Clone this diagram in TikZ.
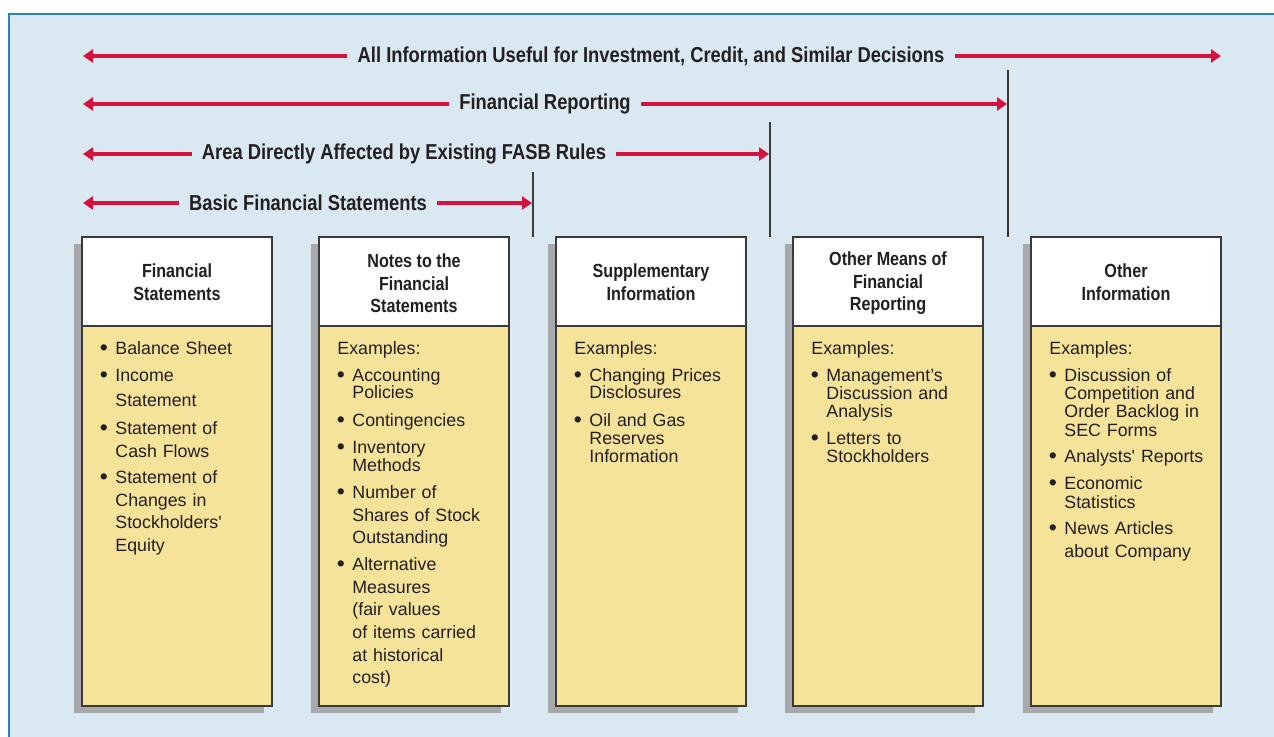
\documentclass[tikz,border=0pt]{standalone}
\usepackage{fontspec}
\setmainfont{Liberation Sans}
\newfontfamily\condfont{Liberation Sans}[FakeStretch=0.85]
\usepackage{xcolor}
\usepackage{tikz}
\usetikzlibrary{arrows.meta,shadows}
\setlength{\parindent}{0pt}
\definecolor{frSky}{HTML}{D9E8F1}
\definecolor{frFrame}{HTML}{2B82B4}
\definecolor{frRed}{HTML}{D4113F}
\definecolor{frInk}{HTML}{231F20}
\definecolor{frEdge}{HTML}{3A3A3A}
\definecolor{frCream}{HTML}{F6E39A}
\definecolor{frShade}{HTML}{A6A8AB}
\newcommand{\bul}{\hspace*{-0.3pt}\makebox[7.8pt][l]{\raisebox{-0.6pt}{\fontsize{11.5pt}{9pt}\selectfont\textbullet}}}
\newcommand{\cnt}{\hspace*{7.5pt}}
\tikzset{
  fr diagram/.style={x=0.5pt, y=-0.5pt, text=frInk,
    line cap=butt, line join=miter},
  fr label/.style={font=\fontsize{10.8pt}{12pt}\condfont\bfseries,
    text=frInk, inner xsep=5pt, inner ysep=0pt},
  fr arrow/.style={-{Triangle[length=5pt,width=6.5pt]}, draw=frRed,
    line width=1.8pt},
  fr divider/.style={draw=frEdge, line width=0.75pt},
  fr panel/.style={draw=frEdge, fill=frCream, line width=0.75pt,
    minimum width=95pt, minimum height=234.5pt, inner sep=0pt,
    drop shadow={shadow xshift=-4pt, shadow yshift=-3.5pt,
      fill=frShade, opacity=1}},
  fr head/.style={draw=frEdge, fill=white, line width=0.75pt,
    minimum width=95pt, minimum height=44.5pt, inner sep=0pt},
  fr title/.style={inner sep=0pt, align=center,
    font=\fontsize{9.5pt}{11.25pt}\condfont\bfseries},
  fr body/.style={anchor=north west, inner sep=0pt, text width=85pt,
    align=left, font=\fontsize{8.9pt}{9pt}\selectfont}
}
\begin{document}
\begin{tikzpicture}[fr diagram]
\useasboundingbox (0,0) rectangle (1274,737);
% frame
\fill[frSky] (9,14) rectangle (1274,737);
\draw[frFrame, line width=1pt] (9,737) -- (9,14) -- (1274,14);

% scope arrows
\node[fr label] (allinfo) at (651,56) {All Information Useful for Investment, Credit, and Similar Decisions};
\coordinate (allinfoL) at (83,56);
\coordinate (allinfoR) at (1221,56);
\draw[fr arrow] (allinfo.west) -- (allinfoL);
\draw[fr arrow] (allinfo.east) -- (allinfoR);

\node[fr label] (finrep) at (545,104) {Financial Reporting};
\coordinate (finrepL) at (83,104);
\coordinate (finrepR) at (1007,104);
\draw[fr arrow] (finrep.west) -- (finrepL);
\draw[fr arrow] (finrep.east) -- (finrepR);

\node[fr label] (fasb) at (404,154) {Area Directly Affected by Existing FASB Rules};
\coordinate (fasbL) at (83,154);
\coordinate (fasbR) at (769,154);
\draw[fr arrow] (fasb.west) -- (fasbL);
\draw[fr arrow] (fasb.east) -- (fasbR);

\node[fr label] (basic) at (308,203) {Basic Financial Statements};
\coordinate (basicL) at (83,203);
\coordinate (basicR) at (532,203);
\draw[fr arrow] (basic.west) -- (basicL);
\draw[fr arrow] (basic.east) -- (basicR);

% dividers
\coordinate (div1top) at (533,172);
\coordinate (div1bot) at (533,237);
\coordinate (div2top) at (770,122);
\coordinate (div2bot) at (770,237);
\coordinate (div3top) at (1008,70);
\coordinate (div3bot) at (1008,237);
\draw[fr divider] (div1top) -- (div1bot);
\draw[fr divider] (div2top) -- (div2bot);
\draw[fr divider] (div3top) -- (div3bot);

% panels
\node[fr panel] (p1) at (177,471.5) {};
\node[fr head, anchor=north] (h1) at (p1.north) {};
\node[fr title] (t1) at (177,282) {Financial\\Statements};
\node[fr body] (b1) at (100,341) {%
\bul Balance Sheet\\[4.5pt]
\bul Income\\[3.5pt]
\cnt Statement\\[5pt]
\bul Statement of\\[2.5pt]
\cnt Cash Flows\\[4pt]
\bul Statement of\\[2.5pt]
\cnt Changes in\\[2pt]
\cnt Stockholders\textquotesingle\\[2.5pt]
\cnt Equity};

\node[fr panel] (p2) at (414,471.5) {};
\node[fr head, anchor=north] (h2) at (p2.north) {};
\node[fr title] (t2) at (414,283.5) {Notes to the\\Financial\\Statements};
\node[fr body] (b2) at (337,341) {%
Examples:\\[4.5pt]
\bul Accounting\\[-0.5pt]
\cnt Policies\\[5pt]
\bul Contingencies\\[4.5pt]
\bul Inventory\\
\cnt Methods\\[4.5pt]
\bul Number of\\[2.5pt]
\cnt Shares of Stock\\[2pt]
\cnt Outstanding\\[4.5pt]
\bul Alternative\\[2.5pt]
\cnt Measures\\[2pt]
\cnt (fair values\\[2.5pt]
\cnt of items carried\\[2.5pt]
\cnt at historical\\[2pt]
\cnt cost)};

\node[fr panel] (p3) at (651,471.5) {};
\node[fr head, anchor=north] (h3) at (p3.north) {};
\node[fr title] (t3) at (651,282) {Supplementary\\Information};
\node[fr body] (b3) at (574,341) {%
Examples:\\[4.5pt]
\bul Changing Prices\\[-0.5pt]
\cnt Disclosures\\[5pt]
\bul Oil and Gas\\
\cnt Reserves\\
\cnt Information};

\node[fr panel] (p4) at (888,471.5) {};
\node[fr head, anchor=north] (h4) at (p4.north) {};
\node[fr title] (t4) at (888,283.5) {Other Means of\\Financial\\Reporting};
\node[fr body] (b4) at (811,341) {%
Examples:\\[4.5pt]
\bul Management’s\\
\cnt Discussion and\\
\cnt Analysis\\[4.5pt]
\bul Letters to\\
\cnt Stockholders};

\node[fr panel] (p5) at (1126,471.5) {};
\node[fr head, anchor=north] (h5) at (p5.north) {};
\node[fr title] (t5) at (1126,282) {Other\\Information};
\node[fr body] (b5) at (1049,341) {%
Examples:\\[4.5pt]
\bul Discussion of\\
\cnt Competition and\\
\cnt Order Backlog in\\[0.5pt]
\cnt SEC Forms\\[4pt]
\bul Analysts\textquotesingle{} Reports\\[4.5pt]
\bul Economic\\[0.5pt]
\cnt Statistics\\[4pt]
\bul News Articles\\[2.5pt]
\cnt about Company};
\end{tikzpicture}
\end{document}
